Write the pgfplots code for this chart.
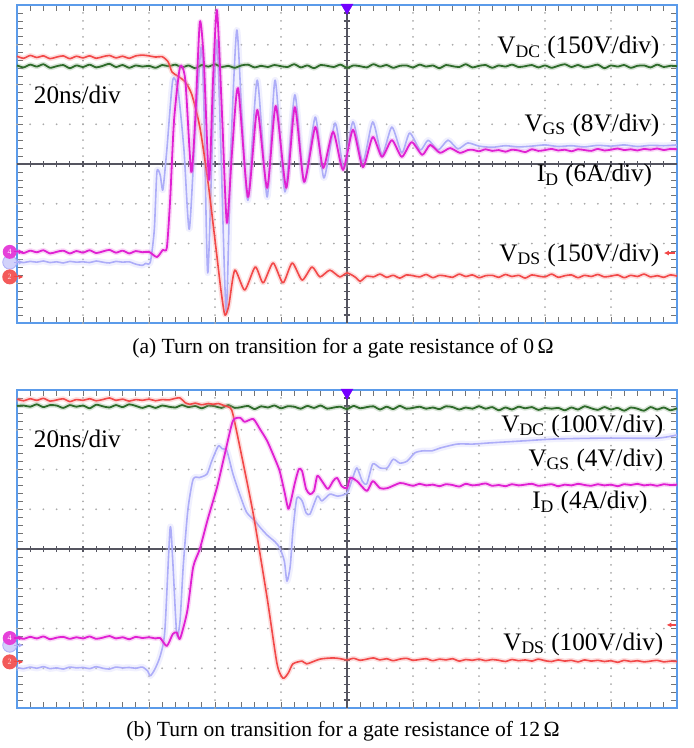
\documentclass[border=0pt]{standalone}
\usepackage{pgfplots}
\pgfplotsset{compat=1.18}
\usepackage{pgfplotstable}
\usepackage{fontspec}
\setmainfont{Liberation Serif}
\usetikzlibrary{arrows.meta}

\definecolor{frameblue}{HTML}{5B9BEA}
\definecolor{vds}{HTML}{F24848}
\definecolor{vdc}{HTML}{2E6B2A}
\definecolor{idm}{HTML}{E020D2}
\definecolor{vgs}{HTML}{ADADF8}
\definecolor{gridc}{HTML}{AAAAAA}
\definecolor{centc}{HTML}{555560}

\newcommand{\lbl}{\fontsize{12.6}{14}\selectfont}
\newcommand{\capfont}{\fontsize{10.8}{12}\selectfont}

% ---------------- Panel (a) data (x in div, y in div) ----------------
\pgfplotstableread{
x y
0.0 2.48
0.1 2.43
0.2 2.50
0.3 2.45
0.4 2.51
0.5 2.42
0.6 2.46
0.7 2.49
0.8 2.41
0.9 2.48
1.0 2.44
1.1 2.50
1.2 2.43
1.3 2.47
1.4 2.52
1.5 2.44
1.6 2.49
1.7 2.42
1.8 2.48
1.9 2.45
2.0 2.47
2.1 2.42
2.2 2.49
2.3 2.46
2.4 2.50
2.5 2.43
2.6 2.48
2.7 2.41
2.8 2.49
2.9 2.45
3.0 2.51
3.1 2.44
3.2 2.47
3.3 2.42
3.4 2.48
3.5 2.50
3.6 2.43
3.7 2.47
3.8 2.44
3.9 2.49
4.0 2.46
4.1 2.44
4.2 2.51
4.3 2.43
4.4 2.48
4.5 2.41
4.6 2.49
4.7 2.47
4.8 2.44
4.9 2.50
5.0 2.42
5.1 2.48
5.2 2.46
5.3 2.43
5.4 2.51
5.5 2.45
5.6 2.49
5.7 2.42
5.8 2.47
5.9 2.48
6.0 2.43
6.1 2.50
6.2 2.45
6.3 2.48
6.4 2.41
6.5 2.49
6.6 2.46
6.7 2.44
6.8 2.51
6.9 2.43
7.0 2.47
7.1 2.49
7.2 2.42
7.3 2.48
7.4 2.45
7.5 2.50
7.6 2.44
7.7 2.46
7.8 2.49
7.9 2.43
8.0 2.48
8.1 2.42
8.2 2.47
8.3 2.51
8.4 2.44
8.5 2.49
8.6 2.43
8.7 2.46
8.8 2.50
8.9 2.41
9.0 2.48
9.1 2.45
9.2 2.49
9.3 2.42
9.4 2.47
9.5 2.48
9.6 2.43
9.7 2.50
9.8 2.44
9.9 2.47
10.0 2.46
}\vdcA

\pgfplotstableread{
x y
0.0 2.71
0.1 2.66
0.2 2.73
0.3 2.68
0.4 2.72
0.5 2.65
0.6 2.69
0.7 2.72
0.8 2.65
0.9 2.71
1.0 2.67
1.1 2.72
1.2 2.66
1.3 2.70
1.4 2.73
1.5 2.67
1.6 2.71
1.7 2.66
1.8 2.72
1.9 2.74
2.0 2.72
2.1 2.69
2.2 2.70
2.29 2.57
2.35 2.31
2.44 2.21
2.55 2.06
2.65 1.74
2.77 0.93
2.89 -0.40
3.00 -1.91
3.09 -3.17
3.15 -3.80
3.21 -3.55
3.30 -2.67
3.45 -3.17
3.61 -2.59
3.73 -2.99
3.88 -2.49
4.03 -2.99
4.17 -2.49
4.32 -2.92
4.47 -2.59
4.59 -2.84
4.74 -2.67
4.89 -2.84
5.00 -2.74
5.12 -2.84
5.20 -2.95
5.3 -2.82
5.4 -2.84
5.5 -2.77
5.6 -2.85
5.7 -2.80
5.8 -2.87
5.9 -2.79
6.0 -2.81
6.1 -2.84
6.2 -2.78
6.3 -2.86
6.4 -2.80
6.5 -2.82
6.6 -2.85
6.7 -2.77
6.8 -2.83
6.9 -2.79
7.0 -2.86
7.1 -2.81
7.2 -2.80
7.3 -2.85
7.4 -2.78
7.5 -2.83
7.6 -2.80
7.7 -2.87
7.8 -2.79
7.9 -2.82
8.0 -2.84
8.1 -2.77
8.2 -2.85
8.3 -2.81
8.4 -2.79
8.5 -2.86
8.6 -2.80
8.7 -2.83
8.8 -2.78
8.9 -2.84
9.0 -2.82
9.1 -2.79
9.2 -2.86
9.3 -2.80
9.4 -2.83
9.5 -2.77
9.6 -2.84
9.7 -2.81
9.8 -2.85
9.9 -2.79
10.0 -2.82
}\vdsA

\pgfplotstableread{
x y
0.0 -2.19
0.1 -2.24
0.2 -2.18
0.3 -2.22
0.4 -2.17
0.5 -2.25
0.6 -2.21
0.7 -2.18
0.8 -2.25
0.9 -2.19
1.0 -2.23
1.1 -2.17
1.2 -2.24
1.3 -2.20
1.4 -2.16
1.5 -2.23
1.6 -2.18
1.7 -2.25
1.8 -2.19
1.9 -2.22
2.0 -2.21
2.12 -2.34
2.21 -2.16
2.27 -2.11
2.32 -0.91
2.38 1.11
2.47 2.44
2.55 2.11
2.64 -0.20
2.70 1.11
2.77 3.57
2.83 2.62
2.91 -0.40
2.97 2.11
3.03 3.87
3.11 1.11
3.18 -1.48
3.26 0.35
3.35 1.91
3.50 -0.83
3.64 1.36
3.79 -0.60
3.92 1.46
4.08 -0.60
4.21 1.43
4.35 -0.45
4.52 0.93
4.64 -0.10
4.79 0.81
4.94 -0.15
5.09 0.86
5.24 -0.08
5.39 0.68
5.53 0.18
5.68 0.60
5.83 0.18
5.98 0.55
6.14 0.23
6.26 0.48
6.41 0.28
6.56 0.40
6.71 0.28
6.83 0.35
6.9 0.36
7.0 0.32
7.1 0.37
7.2 0.33
7.3 0.35
7.4 0.31
7.5 0.36
7.6 0.34
7.7 0.30
7.8 0.37
7.9 0.33
8.0 0.35
8.1 0.38
8.2 0.34
8.3 0.36
8.4 0.32
8.5 0.37
8.6 0.35
8.7 0.33
8.8 0.38
8.9 0.34
9.0 0.36
9.1 0.39
9.2 0.35
9.3 0.37
9.4 0.34
9.5 0.38
9.6 0.36
9.7 0.39
9.8 0.35
9.9 0.38
10.0 0.37
}\idA

\pgfplotstableread{
x y
0.0 -2.46
0.1 -2.48
0.2 -2.45
0.3 -2.47
0.4 -2.44
0.5 -2.48
0.6 -2.46
0.7 -2.49
0.8 -2.45
0.9 -2.47
1.0 -2.46
1.1 -2.48
1.2 -2.44
1.3 -2.47
1.4 -2.49
1.5 -2.45
1.6 -2.47
1.7 -2.46
1.8 -2.52
1.9 -2.55
1.95 -2.50
2.02 -2.47
2.08 -1.66
2.12 -0.20
2.17 -0.28
2.21 -0.65
2.27 0.35
2.36 2.11
2.44 1.86
2.53 0.35
2.61 -1.64
2.70 0.86
2.79 2.94
2.83 1.61
2.89 -2.74
2.97 1.11
3.03 3.12
3.09 0.35
3.17 -3.72
3.24 0.35
3.33 3.37
3.41 1.11
3.50 -0.91
3.64 2.11
3.79 -0.83
3.91 2.11
4.06 -0.70
4.21 1.74
4.35 -0.45
4.52 1.18
4.65 -0.35
4.82 1.03
4.95 -0.10
5.09 1.06
5.24 0.05
5.39 1.06
5.53 0.23
5.68 0.93
5.83 0.28
5.95 0.78
6.11 0.35
6.23 0.60
6.38 0.35
6.53 0.60
6.68 0.38
6.83 0.53
7.0 0.45
7.2 0.42
7.4 0.46
7.6 0.43
7.8 0.45
8.0 0.48
8.2 0.44
8.4 0.46
8.6 0.43
8.8 0.47
9.0 0.45
9.2 0.48
9.4 0.44
9.6 0.47
9.8 0.46
10.0 0.48
}\vgsA

% ---------------- Panel (b) data ----------------
\pgfplotstableread{
x y
0.0 3.60
0.1 3.61
0.2 3.58
0.3 3.64
0.4 3.57
0.5 3.62
0.6 3.61
0.7 3.55
0.8 3.62
0.9 3.58
1.0 3.61
1.1 3.54
1.2 3.63
1.3 3.59
1.4 3.56
1.5 3.62
1.6 3.57
1.7 3.64
1.8 3.60
1.9 3.55
2.0 3.60
2.1 3.55
2.2 3.61
2.3 3.58
2.4 3.56
2.5 3.62
2.6 3.57
2.7 3.60
2.8 3.54
2.9 3.61
3.0 3.59
3.1 3.55
3.2 3.62
3.3 3.55
3.4 3.57
3.5 3.60
3.6 3.52
3.7 3.59
3.8 3.56
3.9 3.61
4.0 3.54
4.1 3.59
4.2 3.58
4.3 3.53
4.4 3.60
4.5 3.55
4.6 3.61
4.7 3.53
4.8 3.56
4.9 3.58
5.0 3.52
5.1 3.60
5.2 3.54
5.3 3.57
5.4 3.59
5.5 3.51
5.6 3.58
5.7 3.52
5.8 3.60
5.9 3.53
6.0 3.55
6.1 3.58
6.2 3.53
6.3 3.56
6.4 3.52
6.5 3.59
6.6 3.57
6.7 3.51
6.8 3.56
6.9 3.53
7.0 3.59
7.1 3.53
7.2 3.57
7.3 3.49
7.4 3.56
7.5 3.51
7.6 3.58
7.7 3.54
7.8 3.57
7.9 3.50
8.0 3.55
8.1 3.53
8.2 3.55
8.3 3.49
8.4 3.56
8.5 3.51
8.6 3.59
8.7 3.54
8.8 3.50
8.9 3.57
9.0 3.51
9.1 3.55
9.2 3.48
9.3 3.56
9.4 3.53
9.5 3.48
9.6 3.57
9.7 3.51
9.8 3.56
9.9 3.49
10.0 3.54
}\vdcB

\pgfplotstableread{
x y
0.0 3.77
0.1 3.73
0.2 3.78
0.3 3.74
0.4 3.79
0.5 3.72
0.6 3.75
0.7 3.78
0.8 3.71
0.9 3.76
1.0 3.74
1.1 3.78
1.2 3.73
1.3 3.76
1.4 3.80
1.5 3.74
1.6 3.77
1.7 3.72
1.8 3.76
1.9 3.74
2.0 3.77
2.1 3.73
2.2 3.76
2.3 3.75
2.4 3.79
2.47 3.80
2.55 3.68
2.62 3.64
2.70 3.67
2.80 3.63
2.90 3.66
2.97 3.64
3.05 3.66
3.12 3.62
3.23 3.55
3.27 3.40
3.38 2.54
3.58 0.88
3.79 -1.23
3.94 -2.89
4.03 -3.25
4.11 -3.12
4.18 -2.89
4.32 -2.82
4.39 -2.89
4.59 -2.77
4.79 -2.74
4.9 -2.76
5.0 -2.79
5.1 -2.75
5.2 -2.80
5.3 -2.77
5.4 -2.74
5.5 -2.79
5.6 -2.76
5.7 -2.81
5.8 -2.77
5.9 -2.75
6.0 -2.80
6.1 -2.78
6.2 -2.76
6.3 -2.81
6.4 -2.77
6.5 -2.79
6.6 -2.76
6.7 -2.82
6.8 -2.78
6.9 -2.80
7.0 -2.77
7.1 -2.81
7.2 -2.78
7.3 -2.80
7.4 -2.83
7.5 -2.78
7.6 -2.81
7.7 -2.79
7.8 -2.82
7.9 -2.77
8.0 -2.81
8.1 -2.83
8.2 -2.79
8.3 -2.82
8.4 -2.80
8.5 -2.84
8.6 -2.79
8.7 -2.82
8.8 -2.80
8.9 -2.83
9.0 -2.81
9.1 -2.85
9.2 -2.80
9.3 -2.83
9.4 -2.81
9.5 -2.84
9.6 -2.82
9.7 -2.80
9.8 -2.84
9.9 -2.82
10.0 -2.83
}\vdsB

\pgfplotstableread{
x y
0.0 -2.22
0.1 -2.26
0.2 -2.21
0.3 -2.25
0.4 -2.20
0.5 -2.27
0.6 -2.23
0.7 -2.21
0.8 -2.26
0.9 -2.22
1.0 -2.25
1.1 -2.20
1.2 -2.26
1.3 -2.23
1.4 -2.19
1.5 -2.25
1.6 -2.22
1.7 -2.27
1.8 -2.21
1.9 -2.24
2.0 -2.22
2.1 -2.25
2.17 -2.24
2.27 -2.44
2.36 -2.14
2.42 -2.10
2.47 -2.26
2.58 -1.56
2.67 -0.45
2.77 0.00
2.89 0.75
3.03 1.55
3.15 2.40
3.27 3.22
3.38 3.30
3.45 3.20
3.58 3.27
3.68 3.02
3.79 2.72
3.91 2.26
3.98 1.96
4.05 1.46
4.11 1.01
4.15 1.21
4.21 1.66
4.27 2.01
4.32 1.96
4.38 1.51
4.44 1.38
4.50 1.46
4.55 1.84
4.62 1.71
4.71 1.51
4.79 1.71
4.85 1.79
4.92 1.58
5.00 1.53
5.05 1.79
5.15 1.71
5.30 1.46
5.39 1.71
5.50 1.53
5.61 1.53
5.80 1.66
5.9 1.63
6.0 1.59
6.1 1.64
6.2 1.60
6.3 1.62
6.4 1.58
6.5 1.63
6.6 1.61
6.7 1.57
6.8 1.64
6.9 1.60
7.0 1.62
7.1 1.65
7.2 1.59
7.3 1.61
7.4 1.58
7.5 1.63
7.6 1.60
7.7 1.62
7.8 1.64
7.9 1.59
8.0 1.61
8.1 1.63
8.2 1.58
8.3 1.62
8.4 1.60
8.5 1.64
8.6 1.61
8.7 1.59
8.8 1.63
8.9 1.60
9.0 1.62
9.1 1.58
9.2 1.63
9.3 1.61
9.4 1.64
9.5 1.60
9.6 1.62
9.7 1.59
9.8 1.63
9.9 1.61
10.0 1.62
}\idB

\pgfplotstableread{
x y
0.0 -2.98
0.1 -3.01
0.2 -2.97
0.3 -3.00
0.4 -2.96
0.5 -3.01
0.6 -2.99
0.7 -3.02
0.8 -2.97
0.9 -2.99
1.0 -2.98
1.1 -3.01
1.2 -2.96
1.3 -3.00
1.4 -3.02
1.5 -2.97
1.6 -2.99
1.7 -2.98
1.8 -3.00
1.9 -2.97
1.98 -3.07
2.02 -3.19
2.09 -3.02
2.17 -2.69
2.24 -2.06
2.32 0.53
2.36 -0.30
2.42 -2.14
2.47 -1.81
2.52 -0.40
2.59 1.00
2.67 1.76
2.77 1.80
2.88 1.89
2.95 2.21
3.05 2.59
3.11 2.52
3.18 2.47
3.27 1.90
3.38 1.35
3.48 0.92
3.61 0.70
3.68 0.55
3.79 0.35
3.91 0.18
3.98 0.03
4.05 -0.30
4.09 -0.81
4.14 -0.43
4.18 0.45
4.24 1.28
4.32 1.21
4.38 0.91
4.44 0.88
4.55 1.33
4.62 1.21
4.74 1.38
4.86 1.33
5.00 1.41
5.08 1.76
5.15 2.04
5.23 1.71
5.30 1.64
5.39 2.14
5.50 2.04
5.61 2.04
5.70 2.26
5.80 2.16
5.91 2.21
6.03 2.42
6.15 2.47
6.29 2.47
6.41 2.54
6.67 2.64
6.91 2.64
7.17 2.67
7.67 2.72
8.18 2.77
8.94 2.79
9.70 2.79
10.0 2.87
}\vgsB

\pgfplotsset{
  osc/.style={
    scale only axis, width=330pt, height=159pt,
    xmin=0, xmax=10, ymin=-4, ymax=4,
    xtick={0,...,10}, ytick={-4,...,4},
    minor x tick num=4, minor y tick num=4,
    xticklabels={}, yticklabels={},
    axis line style={frameblue, line width=1.3pt},
    tick style={black!55, line width=0.4pt},
    major tick length=3pt, minor tick length=3pt,
    clip=false,
  },
  halo/.style={no markers, smooth, tension=0.4, line width=2.4pt, opacity=0.3, line join=round},
  core/.style={no markers, smooth, tension=0.4, line width=0.9pt, line join=round},
}

\tikzset{
  griddot/.style={gridc, line width=1pt, line cap=round},
  centline/.style={centc, line width=0.6pt},
}

\newcommand{\scopegrid}{%
  \pgfplotsinvokeforeach{1,...,9}{\draw[griddot, dash pattern=on 0pt off 3.975pt] (axis cs:##1,-4) -- (axis cs:##1,4);}
  \pgfplotsinvokeforeach{-3,...,3}{\draw[griddot, dash pattern=on 0pt off 6.6pt] (axis cs:0,##1) -- (axis cs:10,##1);}
  \draw[centline] (axis cs:0,0) -- (axis cs:10,0);
  \draw[centline] (axis cs:5,-4) -- (axis cs:5,4);
  \pgfplotsinvokeforeach{0.2,0.4,...,9.8}{\draw[centline] (axis cs:##1,-0.08) -- (axis cs:##1,0.08);}
  \pgfplotsinvokeforeach{-3.8,-3.6,...,3.8}{\draw[centline] (axis cs:4.95,##1) -- (axis cs:5.05,##1);}
}

\begin{document}
\begin{tikzpicture}
\path[use as bounding box] (0,0) rectangle (347pt,-374pt);

% ================= Panel (a) =================
\begin{axis}[osc, at={(8.5pt,-161.5pt)}, anchor=south west]
\scopegrid
\addplot[halo, color=vgs!60, line width=3.2pt] table {\vgsA};
\addplot[core, color=vgs, line width=0.8pt] table {\vgsA};
\addplot[halo, color=vdc!60] table {\vdcA};
\addplot[core, color=vdc] table {\vdcA};
\addplot[halo, color=vds!60] table {\vdsA};
\addplot[core, color=vds, line width=0.8pt] table {\vdsA};
\addplot[halo, color=idm!60] table {\idA};
\addplot[core, color=idm] table {\idA};

\fill[blue!55!magenta] (axis cs:5,4) ++(-3.2pt,0.6pt) -- ++(6.4pt,0pt) -- ++(-3.2pt,-5.5pt) -- cycle;

\node[circle, fill=vgs!55, draw=vgs, inner sep=0pt, minimum size=7pt] at (axis cs:-0.11,-2.47) {};
\draw[vgs, line width=0.6pt, -{Latex[length=2.5pt,width=2.5pt]}] (axis cs:-0.05,-2.47) -- (axis cs:0.1,-2.47);
\node[circle, fill=idm!85, inner sep=0pt, minimum size=7pt, text=white, font=\fontsize{4}{4}\selectfont] at (axis cs:-0.11,-2.21) {4};
\draw[idm, line width=0.6pt, -{Latex[length=2.5pt,width=2.5pt]}] (axis cs:-0.05,-2.21) -- (axis cs:0.1,-2.21);
\node[circle, fill=vds!90, inner sep=0pt, minimum size=7.5pt, text=white!80!vds, font=\fontsize{4}{4}\selectfont] at (axis cs:-0.11,-2.84) {2};
\draw[vds, line width=0.6pt, -{Latex[length=2.5pt,width=2.5pt]}] (axis cs:-0.05,-2.84) -- (axis cs:0.1,-2.84);
\draw[vds, line width=0.6pt, -{Latex[length=2.5pt,width=2.5pt]}] (axis cs:9.97,-2.24) -- (axis cs:9.8,-2.24);

\node[anchor=west, font=\lbl] at (axis cs:0.15,1.74) {20ns/div};
\node[anchor=east, font=\lbl] at (axis cs:9.84,2.92) {V\textsubscript{DC} (150V/div)};
\node[anchor=east, font=\lbl] at (axis cs:9.84,0.98) {V\textsubscript{GS} (8V/div)};
\node[anchor=east, font=\lbl] at (axis cs:9.73,-0.30) {I\textsubscript{D} (6A/div)};
\node[anchor=east, font=\lbl] at (axis cs:9.84,-2.29) {V\textsubscript{DS} (150V/div)};
\end{axis}

\node[font=\capfont] at (171.5pt,-174pt) {(a) Turn on transition for a gate resistance of 0\,Ω};

% ================= Panel (b) =================
\begin{axis}[osc, at={(8.5pt,-354pt)}, anchor=south west]
\scopegrid
\addplot[halo, color=vgs!60, line width=3.2pt] table {\vgsB};
\addplot[core, color=vgs, line width=0.8pt] table {\vgsB};
\addplot[halo, color=vdc!60] table {\vdcB};
\addplot[core, color=vdc] table {\vdcB};
\addplot[halo, color=vds!60] table {\vdsB};
\addplot[core, color=vds, line width=0.8pt] table {\vdsB};
\addplot[halo, color=idm!60] table {\idB};
\addplot[core, color=idm] table {\idB};

\fill[blue!55!magenta] (axis cs:5,4) ++(-3.2pt,0.6pt) -- ++(6.4pt,0pt) -- ++(-3.2pt,-5.5pt) -- cycle;

\node[circle, fill=vgs!55, draw=vgs, inner sep=0pt, minimum size=7pt] at (axis cs:-0.11,-2.42) {};
\draw[vgs, line width=0.6pt, -{Latex[length=2.5pt,width=2.5pt]}] (axis cs:-0.05,-2.42) -- (axis cs:0.1,-2.42);
\node[circle, fill=idm!85, inner sep=0pt, minimum size=7pt, text=white, font=\fontsize{4}{4}\selectfont] at (axis cs:-0.11,-2.24) {4};
\draw[idm, line width=0.6pt, -{Latex[length=2.5pt,width=2.5pt]}] (axis cs:-0.05,-2.24) -- (axis cs:0.1,-2.24);
\node[circle, fill=vds!90, inner sep=0pt, minimum size=7.5pt, text=white!80!vds, font=\fontsize{4}{4}\selectfont] at (axis cs:-0.11,-2.84) {2};
\draw[vds, line width=0.6pt, -{Latex[length=2.5pt,width=2.5pt]}] (axis cs:-0.05,-2.84) -- (axis cs:0.1,-2.84);
\draw[vds, line width=0.6pt, -{Latex[length=2.5pt,width=2.5pt]}] (axis cs:9.99,-1.91) -- (axis cs:9.84,-1.91);

\node[anchor=west, font=\lbl] at (axis cs:0.15,2.77) {20ns/div};
\node[anchor=east, font=\lbl] at (axis cs:9.90,3.09) {V\textsubscript{DC} (100V/div)};
\node[anchor=east, font=\lbl] at (axis cs:9.90,2.24) {V\textsubscript{GS} (4V/div)};
\node[anchor=east, font=\lbl] at (axis cs:9.66,1.16) {I\textsubscript{D} (4A/div)};
\node[anchor=east, font=\lbl] at (axis cs:9.90,-2.39) {V\textsubscript{DS} (100V/div)};
\end{axis}

\node[font=\capfont] at (171.5pt,-365.5pt) {(b) Turn on transition for a gate resistance of 12\,Ω};
\end{tikzpicture}
\end{document}
